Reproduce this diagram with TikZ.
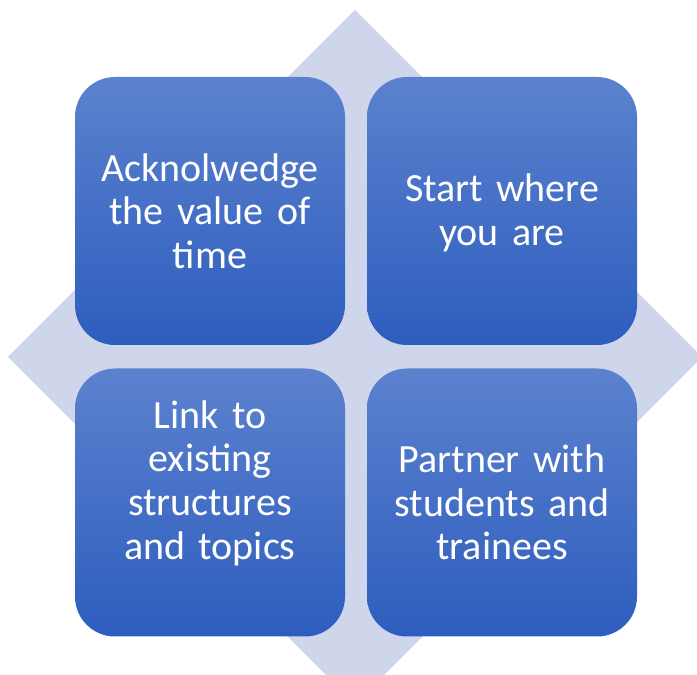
\documentclass[tikz,border=0pt]{standalone}
\usepackage{fontspec}
\setmainfont{Carlito}[WordSpace=0.75]
\definecolor{diam}{HTML}{CFD5EA}
\definecolor{btop}{HTML}{5C82CE}
\definecolor{bbot}{HTML}{2D5DBE}
\tikzset{
  boxcell/.style={rounded corners=30pt, minimum width=202.5pt, minimum height=201pt,
    top color=btop, bottom color=bbot, draw=none, inner sep=0pt},
  boxtext/.style={text=white, align=center, text width=195pt,
    font=\fontsize{30}{32.8}\selectfont, inner sep=0pt}
}
\begin{document}
\begin{tikzpicture}[x=0.75pt,y=0.75pt]
\useasboundingbox (0,0) rectangle (697,675);
\clip (0,0) rectangle (697,675);
\fill[diam] (355,665) -- (702,318) -- (355,-29) -- (8,318) -- cycle;
\node[boxcell] (tl) at (210,464) {};
\node[boxcell] (tr) at (502,464) {};
\node[boxcell] (bl) at (210,172.5) {};
\node[boxcell] (br) at (502,172.5) {};
\node[boxtext] (ttl) at ([yshift=0]tl.center) {Acknolwedge\\the value of\\time};
\node[boxtext] (ttr) at ([yshift=-1.5]tr.center) {Start where\\you are};
\node[boxtext] (tbl) at ([yshift=14.5]bl.center) {Link to\\existing\\structures\\and topics};
\node[boxtext] (tbr) at ([yshift=0]br.center) {Partner with\\students and\\trainees};
\end{tikzpicture}
\end{document}
